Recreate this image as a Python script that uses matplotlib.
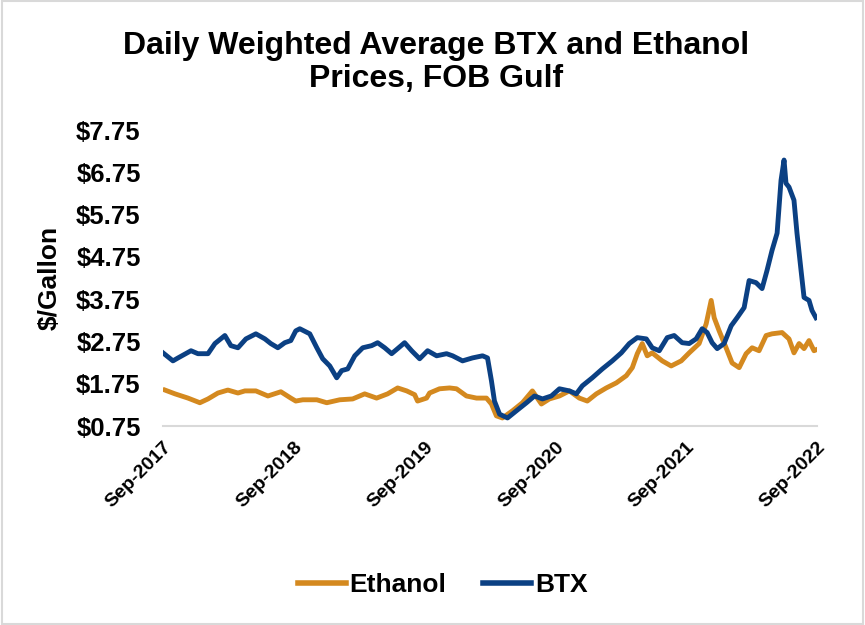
import matplotlib
matplotlib.use("Agg")
import matplotlib.pyplot as plt
from matplotlib.patches import Rectangle
from matplotlib.lines import Line2D

plt.rcParams['font.family'] = ['Liberation Sans', 'DejaVu Sans']

title_lines = ["Daily Weighted Average BTX and Ethanol", "Prices, FOB Gulf"]
y_label = "$/Gallon"
series_names = ["Ethanol", "BTX"]
colors = ["#D4891F", "#0B4083"]

# x values are decimal years
btx_t = [2017.667, 2017.743, 2017.782, 2017.881, 2017.934, 2018.011, 2018.064, 2018.140, 2018.186, 2018.240,
         2018.301, 2018.377, 2018.446, 2018.491, 2018.545, 2018.598, 2018.644, 2018.682, 2018.713, 2018.789,
         2018.843, 2018.888, 2018.942, 2018.995, 2019.033, 2019.079, 2019.133, 2019.194, 2019.262, 2019.308,
         2019.362, 2019.415, 2019.461, 2019.514, 2019.568, 2019.629, 2019.690, 2019.759, 2019.835, 2019.881,
         2019.957, 2020.033, 2020.110, 2020.148, 2020.178, 2020.201, 2020.240, 2020.301, 2020.369, 2020.446,
         2020.507, 2020.568, 2020.636, 2020.698, 2020.774, 2020.827, 2020.873, 2020.949, 2021.026, 2021.102,
         2021.171, 2021.232, 2021.293, 2021.362, 2021.407, 2021.461, 2021.522, 2021.575, 2021.636, 2021.690,
         2021.743, 2021.789, 2021.827, 2021.865, 2021.904, 2021.957, 2022.011, 2022.056, 2022.110, 2022.148,
         2022.201, 2022.247, 2022.285, 2022.323, 2022.362, 2022.392, 2022.415, 2022.430, 2022.453, 2022.491,
         2022.514, 2022.545, 2022.568, 2022.606, 2022.629, 2022.659]
btx_v = [2.48, 2.29, 2.36, 2.53, 2.46, 2.46, 2.70, 2.89, 2.65, 2.60,
         2.81, 2.93, 2.81, 2.70, 2.60, 2.72, 2.77, 3.00, 3.05, 2.93,
         2.60, 2.34, 2.17, 1.89, 2.06, 2.10, 2.41, 2.60, 2.65, 2.72,
         2.60, 2.46, 2.58, 2.72, 2.53, 2.34, 2.53, 2.41, 2.46, 2.41,
         2.29, 2.36, 2.41, 2.36, 1.82, 1.34, 1.03, 0.94, 1.11, 1.30,
         1.46, 1.39, 1.46, 1.63, 1.58, 1.51, 1.70, 1.89, 2.10, 2.29,
         2.48, 2.70, 2.84, 2.81, 2.60, 2.53, 2.84, 2.89, 2.72, 2.70,
         2.81, 3.05, 2.96, 2.72, 2.58, 2.70, 3.12, 3.31, 3.55, 4.19,
         4.14, 4.00, 4.43, 4.90, 5.31, 6.56, 7.04, 6.49, 6.40, 6.09,
         5.31, 4.43, 3.79, 3.72, 3.48, 3.31]

eth_t = [2017.682, 2017.759, 2017.858, 2017.949, 2018.011, 2018.087, 2018.163, 2018.240, 2018.293, 2018.377,
         2018.469, 2018.568, 2018.644, 2018.682, 2018.736, 2018.843, 2018.919, 2019.018, 2019.117, 2019.209,
         2019.300, 2019.384, 2019.461, 2019.530, 2019.591, 2019.613, 2019.682, 2019.705, 2019.781, 2019.858,
         2019.911, 2019.987, 2020.064, 2020.140, 2020.178, 2020.216, 2020.262, 2020.339, 2020.415, 2020.491,
         2020.560, 2020.621, 2020.698, 2020.774, 2020.850, 2020.911, 2020.980, 2021.056, 2021.133, 2021.209,
         2021.255, 2021.293, 2021.331, 2021.369, 2021.407, 2021.484, 2021.552, 2021.629, 2021.690, 2021.766,
         2021.820, 2021.858, 2021.881, 2021.919, 2021.972, 2022.018, 2022.072, 2022.125, 2022.171, 2022.224,
         2022.278, 2022.323, 2022.400, 2022.453, 2022.491, 2022.530, 2022.568, 2022.606, 2022.644, 2022.659]
eth_v = [1.60, 1.51, 1.41, 1.30, 1.39, 1.53, 1.60, 1.53, 1.58, 1.58,
         1.46, 1.56, 1.41, 1.34, 1.37, 1.37, 1.30, 1.37, 1.39, 1.51,
         1.41, 1.51, 1.65, 1.58, 1.49, 1.34, 1.41, 1.53, 1.63, 1.65,
         1.63, 1.46, 1.41, 1.41, 1.27, 0.99, 0.94, 1.11, 1.30, 1.58,
         1.27, 1.39, 1.46, 1.58, 1.41, 1.34, 1.51, 1.65, 1.77, 1.94,
         2.13, 2.46, 2.70, 2.41, 2.48, 2.29, 2.17, 2.29, 2.48, 2.70,
         3.17, 3.72, 3.31, 3.00, 2.60, 2.24, 2.13, 2.46, 2.60, 2.53,
         2.89, 2.93, 2.96, 2.81, 2.48, 2.70, 2.58, 2.77, 2.53, 2.55]

x_ticks = [2017.667, 2018.667, 2019.667, 2020.667, 2021.667, 2022.667]
x_tick_labels = ["Sep-2017", "Sep-2018", "Sep-2019", "Sep-2020", "Sep-2021", "Sep-2022"]
y_ticks = [0.75, 1.75, 2.75, 3.75, 4.75, 5.75, 6.75, 7.75]
y_tick_labels = ["$0.75", "$1.75", "$2.75", "$3.75", "$4.75", "$5.75", "$6.75", "$7.75"]

fig = plt.figure(figsize=(8.65, 6.25), dpi=100)
fig.patches.append(Rectangle((0.002, 0.002), 0.996, 0.996, transform=fig.transFigure,
                             fill=False, edgecolor="#D9D9D9", linewidth=1.5))
ax_left, ax_right, ax_top, ax_bottom = 163, 817, 130, 426
ax = fig.add_axes([ax_left/865, 1-ax_bottom/625, (ax_right-ax_left)/865, (ax_bottom-ax_top)/625])

ax.plot(eth_t, eth_v, color=colors[0], lw=3.5, solid_joinstyle='round', label=series_names[0])
ax.plot(btx_t, btx_v, color=colors[1], lw=3.5, solid_joinstyle='round', label=series_names[1])

ax.set_xlim(x_ticks[0], x_ticks[-1])
ax.set_ylim(y_ticks[0], y_ticks[-1])
for s in ["top", "right", "left"]:
    ax.spines[s].set_visible(False)
ax.spines["bottom"].set_color("#D9D9D9")
ax.spines["bottom"].set_linewidth(1.5)
ax.spines["bottom"].set_zorder(0)

ax.set_yticks(y_ticks)
ax.set_yticklabels(y_tick_labels, fontsize=18.5, fontweight="bold")
ax.set_xticks(x_ticks)
ax.set_xticklabels(x_tick_labels, fontsize=14, fontweight="bold", rotation=45,
                   ha="right", rotation_mode="anchor")
ax.tick_params(axis="both", length=0)
ax.tick_params(axis="y", pad=16)
ax.tick_params(axis="x", pad=9)
ax.set_ylabel(y_label, fontsize=19, fontweight="bold")
ax.yaxis.set_label_coords((62 - ax_left) / (ax_right - ax_left), 0.5)

fig.text(0.504, 1 - 46/625, title_lines[0], ha="center", va="center", fontsize=23, fontweight="bold")
fig.text(0.504, 1 - 79/625, title_lines[1], ha="center", va="center", fontsize=23, fontweight="bold")

handles = [Line2D([], [], color=colors[0], lw=4), Line2D([], [], color=colors[1], lw=4)]
fig.legend(handles, series_names, loc="center", bbox_to_anchor=(0.512, 1 - 585/625), ncol=2, frameon=False,
           prop={"size": 19, "weight": "bold"}, handlelength=1.8, handletextpad=0.15, columnspacing=1.4)

fig.savefig("out.png", dpi=100)
